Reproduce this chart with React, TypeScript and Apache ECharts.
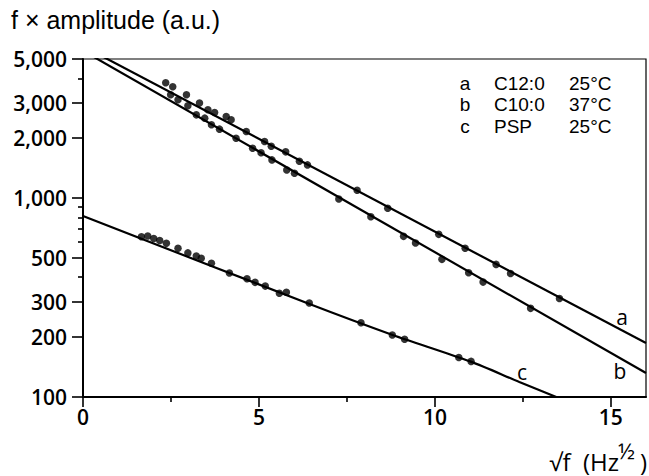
import React, { useEffect, useRef } from "react";
import * as echarts from "echarts";

// Axis ticks / labels
const xTickLabels = [0, 5, 10, 15];
const xMinorTicks = [2.5, 7.5, 12.5];
const yTickLabels = [100, 200, 300, 500, 1000, 2000, 3000, 5000];
const yMinorTicks = [400, 600, 700, 800, 900, 4000];

// Series a: C12:0 25°C (measured points)
const aX = [2.35, 2.55, 2.94, 3.31, 3.55, 3.74, 4.07, 4.21, 4.64, 5.16, 5.35, 5.76, 6.15, 6.38, 7.79, 8.66, 10.11, 10.86, 11.74, 12.15, 13.54];
const aY = [3797, 3626, 3304, 3001, 2777, 2692, 2570, 2474, 2159, 1923, 1823, 1707, 1532, 1468, 1095, 888, 657, 559, 464, 418, 313];

// Series b: C10:0 37°C
const bX = [2.49, 2.70, 2.98, 3.22, 3.46, 3.65, 3.88, 4.35, 4.82, 5.06, 5.37, 5.79, 6.01, 7.27, 8.18, 9.11, 9.45, 10.20, 10.96, 11.37, 12.72];
const bY = [3304, 3119, 2909, 2620, 2522, 2334, 2220, 2000, 1781, 1688, 1555, 1385, 1333, 990, 806, 642, 594, 492, 421, 378, 279];

// Series c: PSP 25°C
const cX = [1.66, 1.84, 2.01, 2.18, 2.37, 2.70, 2.98, 3.22, 3.36, 3.65, 4.16, 4.66, 4.89, 5.18, 5.58, 5.78, 6.43, 7.90, 8.79, 9.14, 10.68, 11.03];
const cY = [639, 645, 626, 612, 592, 559, 530, 511, 498, 470, 420, 393, 377, 361, 332, 336, 297, 236, 205, 195, 158, 151];

// Fitted curves
const fitAX = [0, 16];
const fitAY = [5800, 187];
const fitBX = [0, 16];
const fitBY = [5500, 132];
const fitCX = [0, 6.4, 8.8, 11.0, 12.4, 13.45, 13.8];
const fitCY = [813, 295, 205, 151, 119, 100, 94];

// Legend entries
const legendKeys = ["a", "b", "c"];
const legendNames = ["C12:0", "C10:0", "PSP"];
const legendTemps = ["25°C", "37°C", "25°C"];

const TICK_FONT = "'Open Sans', 'Noto Sans', sans-serif";
const HELV = "'Liberation Sans', Arial, sans-serif";

const toPts = (xs: number[], ys: number[]) => xs.map((x, i) => [x, Math.log10(ys[i])]);

export default function App() {
  const ref = useRef<HTMLDivElement>(null);
  useEffect(() => {
    if (!ref.current) return;
    const chart = echarts.init(ref.current, undefined, { renderer: "svg" });
    const yMin = Math.log10(100);
    const yMax = Math.log10(5000);
    const lineStyle = { color: "#000", width: 2.2 };
    const dot = (xs: number[], ys: number[]) => ({
      type: "scatter",
      data: toPts(xs, ys),
      symbol: "circle",
      symbolSize: 7.5,
      itemStyle: { color: "#000" },
      z: 5,
    });
    const fit = (xs: number[], ys: number[], smooth = false) => ({
      type: "line",
      data: toPts(xs, ys),
      symbol: "none",
      smooth: smooth ? 0.3 : false,
      lineStyle,
      clip: true,
      z: 4,
    });
    const legendGraphics: any[] = [];
    legendKeys.forEach((k, i) => {
      const y = 83 + i * 21.5;
      legendGraphics.push(
        { type: "text", x: 465, y, style: { text: k, font: `19px ${HELV}`, fill: "#000", textAlign: "center", textVerticalAlign: "middle" } },
        { type: "text", x: 494, y, style: { text: legendNames[i], font: `19px ${HELV}`, fill: "#000", textAlign: "left", textVerticalAlign: "middle" } },
        { type: "text", x: 569, y, style: { text: legendTemps[i], font: `19px ${HELV}`, fill: "#000", textAlign: "left", textVerticalAlign: "middle" } }
      );
    });
    chart.setOption({
      animation: false,
      backgroundColor: "#fff",
      grid: {
        left: 83,
        right: 3,
        top: 59,
        bottom: 79,
        show: true,
        borderColor: "#000",
        borderWidth: 1.2,
        backgroundColor: "transparent",
      },
      xAxis: [
        {
          type: "value",
          min: 0,
          max: 16,
          position: "bottom",
          axisLine: { show: true, lineStyle: { color: "#000", width: 2 } },
          axisTick: { show: true, customValues: xTickLabels, length: 10, lineStyle: { color: "#000", width: 1.6 } },
          axisLabel: {
            customValues: xTickLabels,
            color: "#000",
            fontSize: 21,
            fontWeight: 600,
            fontFamily: TICK_FONT,
            margin: 9,
          },
          splitLine: { show: false },
        },
        {
          type: "value",
          min: 0,
          max: 16,
          position: "bottom",
          axisLine: { show: false },
          axisTick: { show: true, customValues: xMinorTicks, length: 5, lineStyle: { color: "#000", width: 1.6 } },
          axisLabel: { show: false },
          splitLine: { show: false },
        },
      ],
      yAxis: [
        {
          type: "value",
          min: yMin,
          max: yMax,
          position: "left",
          axisLine: { show: true, lineStyle: { color: "#000", width: 2 } },
          axisTick: { show: true, customValues: yTickLabels.map((v) => Math.log10(v)), length: 11, lineStyle: { color: "#000", width: 1.6 } },
          axisLabel: {
            customValues: yTickLabels.map((v) => Math.log10(v)),
            formatter: (v: number) => Math.round(Math.pow(10, v)).toLocaleString("en-US"),
            color: "#000",
            fontSize: 21,
            fontWeight: 600,
            fontFamily: TICK_FONT,
            margin: 16,
          },
          splitLine: { show: false },
        },
        {
          type: "value",
          min: yMin,
          max: yMax,
          position: "left",
          axisLine: { show: false },
          axisTick: { show: true, customValues: yMinorTicks.map((v) => Math.log10(v)), length: 5, lineStyle: { color: "#000", width: 1.6 } },
          axisLabel: { show: false },
          splitLine: { show: false },
        },
      ],
      series: [
        fit(fitAX, fitAY),
        fit(fitBX, fitBY),
        fit(fitCX, fitCY, true),
        dot(aX, aY),
        dot(bX, bY),
        dot(cX, cY),
      ],
      graphic: [
        { type: "text", x: 11, y: 20, style: { text: "f × amplitude (a.u.)", font: `25px ${HELV}`, fill: "#000", textAlign: "left", textVerticalAlign: "middle" } },
        ...legendGraphics,
        { type: "text", x: 622, y: 317, style: { text: "a", font: `21px ${TICK_FONT}`, fill: "#000", textAlign: "center", textVerticalAlign: "middle" } },
        { type: "text", x: 620, y: 371, style: { text: "b", font: `21px ${TICK_FONT}`, fill: "#000", textAlign: "center", textVerticalAlign: "middle" } },
        { type: "text", x: 522, y: 372, style: { text: "c", font: `21px ${TICK_FONT}`, fill: "#000", textAlign: "center", textVerticalAlign: "middle" } },
        { type: "text", x: 619, y: 461, style: { text: "√f  (Hz", font: `24px ${TICK_FONT}`, fill: "#000", textAlign: "right", textVerticalAlign: "middle" } },
        { type: "text", x: 618, y: 450, style: { text: "½", font: `22px ${TICK_FONT}`, fill: "#000", textAlign: "left", textVerticalAlign: "middle" } },
        { type: "text", x: 647, y: 461, style: { text: ")", font: `24px ${TICK_FONT}`, fill: "#000", textAlign: "right", textVerticalAlign: "middle" } },
      ],
    });
    return () => chart.dispose();
  }, []);
  return <div ref={ref} style={{ position: "fixed", left: 0, top: 0, width: 649, height: 476 }} />;
}
